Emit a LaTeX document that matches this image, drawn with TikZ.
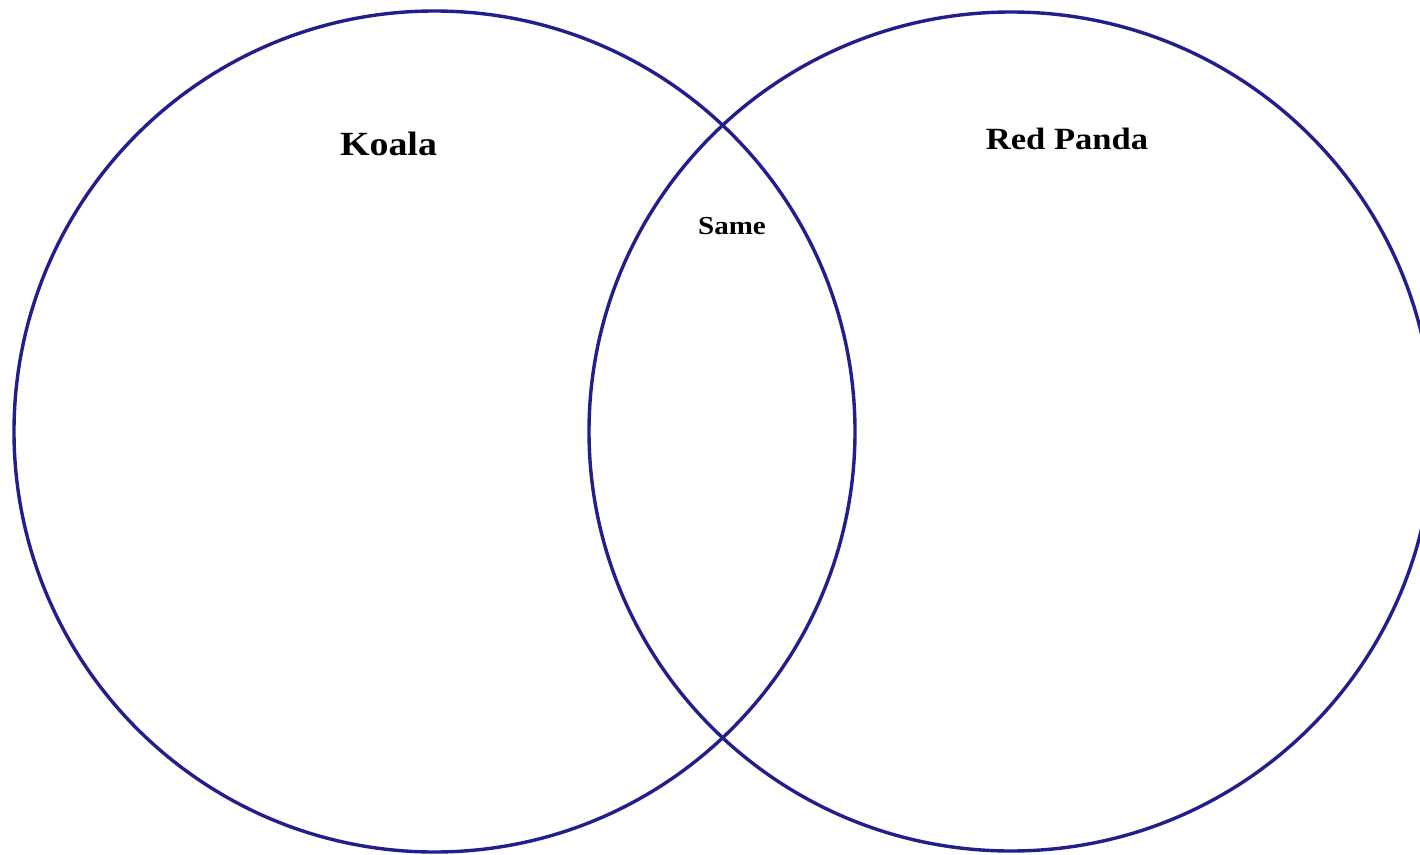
\documentclass[tikz,border=0pt]{standalone}
\usepackage{fontspec}
\usetikzlibrary{shapes.geometric}
\setmainfont{Liberation Serif}
\definecolor{venn}{RGB}{36,30,140}
\begin{document}
\begin{tikzpicture}[x=1bp,y=-1bp,
  ring/.style={draw=venn,line width=3.4bp},
  lbl/.style={font=\bfseries,inner sep=0pt,anchor=base,xscale=1.12}]
\useasboundingbox (0,0) rectangle (1420,854);
\fill[white] (0,0) rectangle (1420,854);
\node[ring,circle,minimum size=841bp,inner sep=0pt] (koalaring) at (434.5,431.5) {};
\node[ring,ellipse,minimum width=844bp,minimum height=839bp,inner sep=0pt] (pandaring) at (1011,431.5) {};
\node[lbl,font=\fontsize{34}{40}\selectfont\bfseries] (koala) at (388.5,155) {Koala};
\node[lbl,font=\fontsize{31}{36}\selectfont\bfseries] (panda) at (1067,149) {Red Panda};
\node[lbl,font=\fontsize{26}{30}\selectfont\bfseries] (same) at (732,234) {Same};
\end{tikzpicture}
\end{document}
